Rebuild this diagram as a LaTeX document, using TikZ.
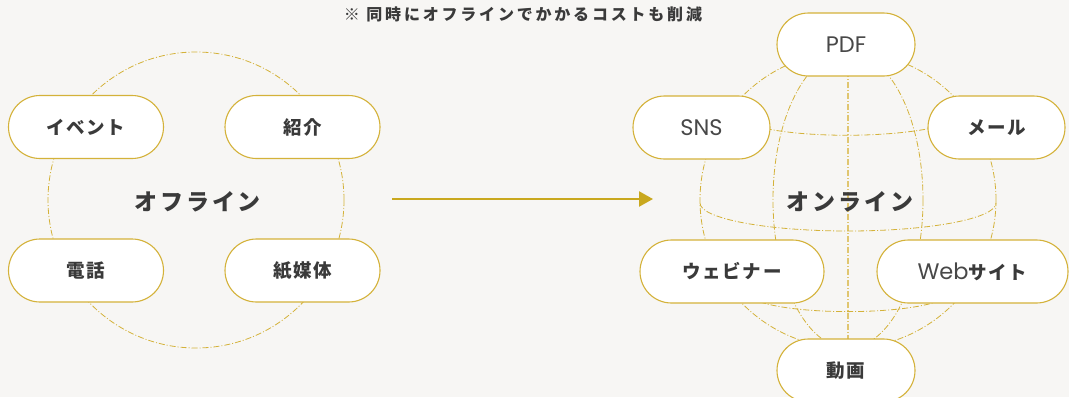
\documentclass[tikz,border=0pt]{standalone}
\usepackage{fontspec}
\usetikzlibrary{shapes.misc,arrows.meta}
\newfontfamily\jp{Noto Sans CJK JP}[LetterSpace=9]
\newfontfamily\jpw{Noto Sans CJK JP}[LetterSpace=12]
\newfontfamily\jpn{Noto Sans CJK JP}[LetterSpace=17.5]
\newfontfamily\lat{Poppins}
\definecolor{bg}{RGB}{247,246,244}
\definecolor{gold}{RGB}{212,178,58}
\definecolor{agold}{RGB}{201,168,30}
\definecolor{lgold}{RGB}{224,198,112}
\definecolor{txt}{RGB}{58,58,58}
\definecolor{ltxt}{RGB}{72,72,72}
\tikzset{
  pill/.style={rounded rectangle, draw=gold, fill=white, line width=1.1pt,
    minimum height=63pt, inner sep=0pt, text=txt,
    font=\jp\bfseries\fontsize{18.5}{20}\selectfont},
  latin/.style={font=\lat\fontsize{22.5}{24}\selectfont, text=ltxt},
  guide/.style={draw=gold, line width=0.8pt, dash pattern=on 6pt off 2pt on 1pt off 2pt},
  axis/.style={draw=lgold, line width=1.5pt, dash pattern=on 6pt off 2pt on 1pt off 2pt},
  title/.style={text=txt, font=\jpw\bfseries\fontsize{23}{25}\selectfont},
}
\begin{document}
\begin{tikzpicture}[x=1pt,y=-1pt]
\fill[bg] (0,0) rectangle (1069,397);
\useasboundingbox (0,0) rectangle (1069,397);
% note
\node[text=txt, font=\jpn\bfseries\fontsize{16}{17}\selectfont] (note) at (523,14) {※ 同時にオフラインでかかるコストも削減};
% offline circle
\draw[guide] (196,200) circle [radius=148];
\node[title] (off) at (198,202) {オフライン};
\node[pill, minimum width=155pt] (event) at (86,127) {イベント};
\node[pill, minimum width=155pt] (intro) at (302.5,127) {紹介};
\node[pill, minimum width=155pt] (tel) at (86,270.5) {電話};
\node[pill, minimum width=155pt] (paper) at (302.5,270.5) {紙媒体};
% arrow
\coordinate (a1) at (392,199);
\coordinate (a2) at (653,199);
\draw[agold, line width=2.4pt, -{Triangle[length=14pt,width=15pt]}] (a1) -- (a2);
% globe
\draw[guide] (848,200) circle [radius=148];
\draw[guide] (848,200) ellipse [x radius=75, y radius=148];
\draw[axis] (848,60) -- (848,345);
\draw[guide] (755,126) .. controls (800,138.5) and (896,138.5) .. (945,125);
\draw[guide] (700,203) .. controls (700,218.5) and (766.3,231) .. (848,231)
  .. controls (929.7,231) and (996,218.5) .. (996,203);
\draw[guide] (760,302) .. controls (800,314.8) and (896,314.8) .. (936,302);
\node[title] (on) at (850,202) {オンライン};
\node[pill, minimum width=138pt, latin] (pdf) at (846,44.5) {PDF};
\node[pill, minimum width=137pt, latin] (sns) at (701.5,127.5) {SNS};
\node[pill, minimum width=137pt] (mail) at (996.5,127.5) {メール};
\node[pill, minimum width=184pt] (web) at (732,271.5) {ウェビナー};
\node[pill, minimum width=191pt] (site) at (972.5,271.5) {{\lat\mdseries\fontsize{22.5}{24}\selectfont \textcolor{ltxt}{Web}}サイト};
\node[pill, minimum width=138pt] (movie) at (846,370.5) {動画};
\end{tikzpicture}
\end{document}
